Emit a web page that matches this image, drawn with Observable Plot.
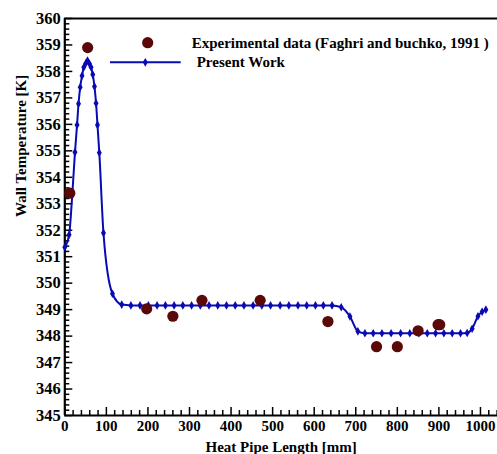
<!DOCTYPE html>
<html>
<head>
<meta charset="utf-8">
<script src="https://cdn.jsdelivr.net/npm/d3@7"></script>
<script src="https://cdn.jsdelivr.net/npm/@observablehq/plot@0.6"></script>
<style>
  html, body { margin: 0; padding: 0; background: white; }
  #chart { position: relative; width: 497px; height: 454px; overflow: hidden; }
</style>
</head>
<body>
<div id="chart"></div>
<script>
// ---- Data ----
const simLength = [0, 10.4, 18, 24.5, 29.5, 33, 37, 41.5, 45.7, 50.5, 54.6, 59.4, 63.2, 67.3, 71.4, 75.2, 78.6, 83, 93, 114.7, 137,
  159, 181, 201, 222, 242, 263, 284, 305, 326, 347, 368, 389, 410, 431, 453, 474, 495, 518, 539, 561, 582, 603, 622, 643,
  665, 686, 705, 722, 742, 763, 785, 808, 830, 852, 872, 892, 912, 932, 952, 968, 980, 994, 1004, 1013];
const simTemp = [351.36, 351.83, 353.35, 354.95, 355.98, 356.78, 357.40, 357.84, 358.16, 358.31, 358.41, 358.29, 358.16, 357.88, 357.43, 356.80, 355.98, 354.93, 351.90, 349.60, 349.19,
  349.16, 349.16, 349.16, 349.16, 349.16, 349.16, 349.16, 349.16, 349.16, 349.16, 349.16, 349.16, 349.16, 349.16, 349.16, 349.16, 349.16, 349.16, 349.16, 349.16, 349.16, 349.16, 349.16, 349.16,
  349.09, 348.74, 348.18, 348.11, 348.11, 348.11, 348.11, 348.11, 348.11, 348.11, 348.11, 348.11, 348.11, 348.11, 348.11, 348.12, 348.28, 348.75, 348.92, 349.0];

const expLength = [12, 55, 197, 260, 330, 470, 633, 750, 800, 850, 898, 902];
const expTemp = [353.4, 358.9, 349.03, 348.75, 349.35, 349.35, 348.55, 347.6, 347.6, 348.2, 348.43, 348.43];

const xMajorTicks = [0, 100, 200, 300, 400, 500, 600, 700, 800, 900, 1000];
const xMinorTicks = d3.range(0, 1041, 20).filter(v => v % 100 !== 0);
const yMajorTicks = [345, 346, 347, 348, 349, 350, 351, 352, 353, 354, 355, 356, 357, 358, 359, 360];
const yMinorTicks = d3.range(345, 360.001, 0.2).map(v => +v.toFixed(1)).filter(v => Math.abs(v - Math.round(v)) > 1e-6);

const xDomain = [0, 1041];
const yDomain = [345, 360];

const xTitle = "Heat Pipe Length [mm]";
const yTitle = "Wall Temperature [K]";
const expLabel = "Experimental data (Faghri and buchko, 1991 )";
const simLabel = "Present Work";

const sim = simLength.map((x, i) => ({x, y: simTemp[i]}));
const exp = expLength.map((x, i) => ({x, y: expTemp[i]}));

const blue = "#0a0ab4";
const maroon = "#5a0808";
const serif = "'Liberation Serif', 'Times New Roman', serif";

const W = 497, H = 454;
const mL = 64.3, mR = 0, mT = 18, mB = 39;
const pxPerX = (W - mL - mR) / (xDomain[1] - xDomain[0]);
const pxPerY = (H - mT - mB) / (yDomain[1] - yDomain[0]);

const plot = Plot.plot({
  width: W, height: H,
  marginLeft: mL, marginRight: mR, marginTop: mT, marginBottom: mB,
  x: {domain: xDomain},
  y: {domain: yDomain},
  style: {fontFamily: serif, fontWeight: "bold", fontSize: "15px", background: "white", color: "black", overflow: "visible"},
  marks: [
    Plot.axisX({ticks: xMajorTicks, tickSize: 0, tickPadding: 5, tickFormat: d => String(d), label: null, fontSize: 15}),
    Plot.axisY({ticks: yMajorTicks, tickSize: 0, tickPadding: 4, tickFormat: d => String(d), label: null, fontSize: 16.5}),
    // inward ticks
    Plot.ruleX(xMajorTicks, {x: d => d, y1: yDomain[0], y2: yDomain[0] + 8 / pxPerY, stroke: "black", strokeWidth: 1.5}),
    Plot.ruleX(xMinorTicks, {x: d => d, y1: yDomain[0], y2: yDomain[0] + 5 / pxPerY, stroke: "black", strokeWidth: 1.5}),
    Plot.ruleY(yMajorTicks, {y: d => d, x1: xDomain[0], x2: xDomain[0] + 8 / pxPerX, stroke: "black", strokeWidth: 1.5}),
    Plot.ruleY(yMinorTicks, {y: d => d, x1: xDomain[0], x2: xDomain[0] + 5 / pxPerX, stroke: "black", strokeWidth: 1.5}),
    // frame (left, bottom, top)
    Plot.ruleX([xDomain[0]], {stroke: "black", strokeWidth: 2.2}),
    Plot.ruleY([yDomain[0], yDomain[1]], {stroke: "black", strokeWidth: 2.2}),
    // simulation line
    Plot.line(sim, {x: "x", y: "y", stroke: blue, strokeWidth: 2, curve: "monotone-x"}),
    Plot.dot(sim, {x: "x", y: "y", symbol: "diamond", r: 2.6, fill: blue, stroke: "none"}),
    // experimental points
    Plot.dot(exp, {x: "x", y: "y", r: 5.6, fill: maroon, stroke: "none"}),
    // axis titles
    Plot.text([xTitle], {frameAnchor: "bottom", dy: 32, text: d => d, fontSize: 15, fontWeight: "bold", lineAnchor: "middle"}),
    Plot.text([yTitle], {frameAnchor: "left", dx: -44, rotate: -90, text: d => d, fontSize: 15, fontWeight: "bold", lineAnchor: "middle"})
  ]
});

document.getElementById("chart").appendChild(plot);

// legend inside the plot area (top-left region)
const svg = d3.select(plot);
const lg = svg.append("g").attr("font-family", serif).attr("font-weight", "bold").attr("font-size", 15).attr("text-anchor", "start");
lg.append("circle").attr("cx", mL + 83.4).attr("cy", mT + 24.7).attr("r", 5.6).attr("fill", maroon);
lg.append("text").attr("x", mL + 127.4).attr("y", mT + 29.5).attr("text-anchor", "start").text(expLabel);
lg.append("line").attr("x1", mL + 45.7).attr("x2", mL + 116.4).attr("y1", mT + 44.3).attr("y2", mT + 44.3)
  .attr("stroke", blue).attr("stroke-width", 2);
lg.append("path").attr("d", d3.symbol(d3.symbolDiamond, 22)()).attr("transform", `translate(${mL + 81},${mT + 44.3})`).attr("fill", blue);
lg.append("text").attr("x", mL + 132.4).attr("y", mT + 48.7).attr("text-anchor", "start").text(simLabel);
</script>
</body>
</html>
